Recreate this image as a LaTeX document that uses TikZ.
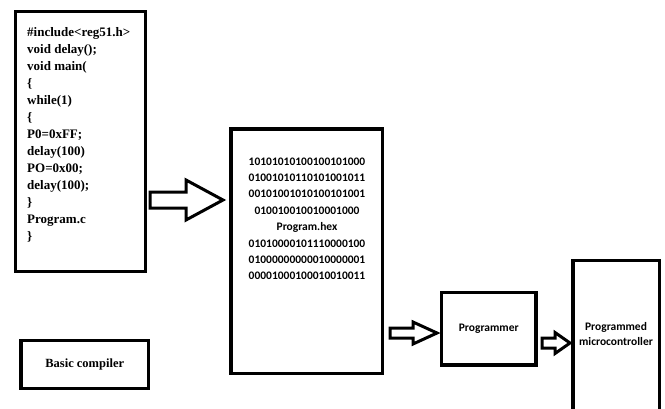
\documentclass[tikz,border=0pt]{standalone}
\usepackage{fontspec}
\setmainfont{Liberation Serif}
\newfontfamily\hexfont{Carlito}
\begin{document}
\begin{tikzpicture}[x=1pt,y=-1pt,
  frame/.style={draw=black,line width=3.5pt,rectangle,inner sep=0pt},
  arrowline/.style={draw=black,line width=3pt,line join=miter,fill=white},
  codetext/.style={inner sep=0pt,align=left,font=\fontsize{13}{17}\selectfont\bfseries},
  hextext/.style={inner sep=0pt,align=center,font=\hexfont\fontsize{11.5}{16.4}\selectfont\bfseries},
  lbltext/.style={inner sep=0pt,align=center,font=\hexfont\fontsize{11.5}{15}\selectfont\bfseries}]
\useasboundingbox (0,0) rectangle (665,408);

% outlined block arrow: tail x, head base x, tip x, centre y, shaft half height, head half height
\newcommand{\hollowarrow}[6]{%
  \draw[arrowline] (#1,#4-#5) -- (#2,#4-#5) -- (#2,#4-#6) -- (#3,#4)
    -- (#2,#4+#6) -- (#2,#4+#5) -- (#1,#4+#5) -- cycle;}

% boxes
\node[frame,minimum width=130pt,minimum height=260pt] (src) at (80.5,141.5) {};
\node[frame,minimum width=151.5pt,minimum height=244.5pt] (hex) at (306.75,251.25) {};
\node[frame,minimum width=94.5pt,minimum height=72.5pt] (prog) at (488.75,328.75) {};
\node[frame,minimum width=86.5pt,minimum height=151pt] (mcu) at (616.25,336) {};
\node[frame,minimum width=127.5pt,minimum height=48pt] (comp) at (84.75,364.5) {};

% texts
\node[codetext,anchor=north west] (code) at (27,27.5) {%
\#include<reg51.h>\\
void delay();\\
void main(\\
\{\\
while(1)\\
\{\\
P0=0xFF;\\
delay(100)\\
PO=0x00;\\
delay(100);\\
\}\\
Program.c\\
\}};

\node[hextext,anchor=north] (bits) at (307,157.3) {%
10101010100100101000\\
01001010110101001011\\
00101001010100101001\\
010010010010001000\\
Program.hex\\
01010000101110000100\\
01000000000010000001\\
00001000100010010011};

\node[lbltext] (progtxt) at (prog.center) {Programmer};
\node[lbltext] (mcutxt) at (616,334.5) {Programmed\\microcontroller};
\node[inner sep=0pt,font=\fontsize{12.5}{15}\selectfont\bfseries] (comptxt) at (comp.center) {Basic compiler};

% flow arrows
\hollowarrow{150}{186}{223}{200}{8}{20}
\hollowarrow{390}{413}{437}{333}{5}{11}
\hollowarrow{542}{555}{570}{343}{5}{10.5}
\end{tikzpicture}
\end{document}
